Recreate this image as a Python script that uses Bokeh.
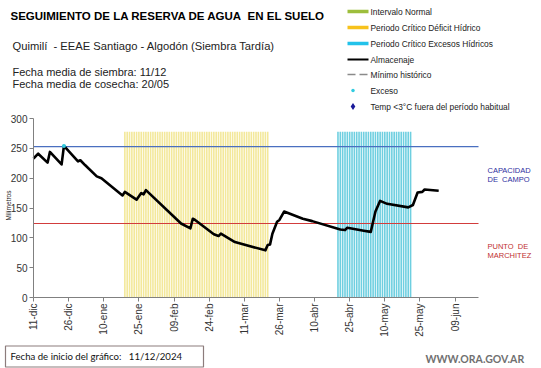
import numpy as np
from bokeh.plotting import figure
from bokeh.models import FixedTicker
from bokeh.core.properties import value
from bokeh.embed import file_html
from bokeh.resources import INLINE

# ---------------- data ----------------
# days since 11/12/2024
tick_days = [0, 15, 30, 45, 60, 75, 90, 105, 120, 135, 150, 165, 180]
tick_labels = ["11-dic", "26-dic", "10-ene", "25-ene", "09-feb", "24-feb", "11-mar",
               "26-mar", "10-abr", "25-abr", "10-may", "25-may", "09-jun"]
y_ticks = [0, 50, 100, 150, 200, 250, 300]

alm_days = [0, 2, 6, 7, 12, 13, 19, 20, 22, 27, 29, 38, 39, 44, 46, 47, 48, 63, 67, 68,
            69, 77, 79, 80, 86, 99, 100, 101, 102, 104, 105, 107, 115, 119, 131, 133, 134,
            141, 144, 146, 148, 151, 160, 162, 164, 166, 167, 173]
alm_vals = [233, 241, 226, 244, 223, 254, 228, 230, 222, 203, 200, 171, 177, 164, 175, 173, 180, 124, 116, 132,
            130, 106, 103, 107, 93, 79, 88, 89, 107, 127, 130, 144, 132, 128, 114, 113, 117,
            112, 110, 144, 162, 157, 151, 155, 176, 177, 181, 179]

exceso_days = [13]
exceso_vals = [254]

capacidad_campo = 253
punto_marchitez = 124

deficit_period = (39, 100)    # Periodo Crítico Déficit Hídrico
exceso_period = (130, 161)    # Periodo Crítico Excesos Hídricos
band_top = 278

X_END = 190
Y_END = 300

FONT = "Liberation Sans"
NB = "\u00a0"

# ---------------- geometry (page pixels) ----------------
W, H = 541, 368
FL, FR, FT, FB = 33, 478, 118, 297          # chart area edges, page pixels
PXD = (FR - FL) / X_END                      # pixels per day
PXV = (FB - FT) / Y_END                      # pixels per mm

def dx(px):
    return (px - FL) / PXD

def dy(py):
    return (FB - py) / PXV

p = figure(width=W, height=H, output_backend="svg", toolbar_location=None,
           x_range=(dx(0), dx(W)), y_range=(dy(H), dy(0)), min_border=0)
p.outline_line_color = None
p.grid.visible = False
p.background_fill_color = "white"
p.border_fill_color = "white"

for ax in (p.xaxis[0], p.yaxis[0]):
    ax.fixed_location = 0
    ax.axis_line_color = "#808080"
    ax.major_tick_line_color = "#808080"
    ax.minor_tick_line_color = None
    ax.major_tick_in = 0
    ax.major_tick_out = 4
    ax.major_label_text_font = FONT
    ax.major_label_text_font_size = "10px"
    ax.major_label_text_color = "#333333"
    ax.major_label_standoff = 2

p.xaxis.ticker = FixedTicker(ticks=tick_days)
p.xaxis.major_label_overrides = {d: l for d, l in zip(tick_days, tick_labels)}
p.xaxis.major_label_orientation = np.pi / 2
p.xaxis.bounds = (0, X_END)
p.yaxis.ticker = FixedTicker(ticks=y_ticks)
p.yaxis.bounds = (0, Y_END)

def txt(x, y, t, size, color="#222222", font=FONT, style="normal", align="left", angle=0):
    p.text(x=[x], y=[y], text=[t], text_font=value(font), text_font_size=value(size),
           text_color=color, text_font_style=style, text_align=align,
           text_baseline="middle", angle=angle)

# critical period bands (striped, one stripe per day)
yd = np.arange(deficit_period[0], deficit_period[1] + 1)
p.vbar(x=yd, width=0.68, bottom=0, top=band_top, fill_color="#F3E89A", line_color=None)
cd = np.arange(exceso_period[0], exceso_period[1] + 1)
p.vbar(x=cd, width=0.68, bottom=0, top=band_top, fill_color="#6ECFE0", line_color=None)

# reference lines
p.line([0, X_END], [capacidad_campo] * 2, line_color="#4A6FC0", line_width=1.2)
p.line([0, X_END], [punto_marchitez] * 2, line_color="#D23C3C", line_width=1.2)

# storage line
p.line(alm_days, alm_vals, line_color="black", line_width=2.6, line_join="round")
p.scatter(exceso_days, exceso_vals, size=4, marker="circle", fill_color="#33CCE0", line_color=None)

# right-side labels
txt(dx(487), dy(170), "CAPACIDAD", "7.5px", "#2E2EA0")
txt(dx(487), dy(179), "DE" + NB + NB + "CAMPO", "7.5px", "#2E2EA0")
txt(dx(487), dy(246), "PUNTO" + NB + NB + "DE", "7.5px", "#C03030")
txt(dx(487), dy(255), "MARCHITEZ", "7.5px", "#C03030")
txt(dx(8), dy(205), "Milímetros", "6.5px", "#222222", align="center", angle=np.pi / 2)

# ---------------- header ----------------
txt(dx(10), dy(15), "SEGUIMIENTO DE LA RESERVA DE AGUA" + NB + NB + "EN EL SUELO", "11.5px", "black", style="bold")
txt(dx(12), dy(45), "Quimilí" + NB + NB + "- EEAE Santiago - Algodón (Siembra Tardía)", "11.2px")
txt(dx(12), dy(71), "Fecha media de siembra: 11/12", "11px")
txt(dx(12), dy(83), "Fecha media de cosecha: 20/05", "11px")

leg_items = ["Intervalo Normal", "Periodo Crítico Déficit Hídrico",
             "Periodo Crítico Excesos Hídricos", "Almacenaje",
             "Mínimo histórico", "Exceso",
             "Temp <3°C fuera del período habitual"]
leg_y = [11, 27, 43, 59, 74, 90, 106]
for t, yy in zip(leg_items, leg_y):
    txt(dx(370), dy(yy), t, "8.4px")

p.quad(left=[dx(347)] * 3, right=[dx(368)] * 3, top=[dy(y - 1.8) for y in leg_y[:3]],
       bottom=[dy(y + 1.8) for y in leg_y[:3]],
       fill_color=["#9DBE3C", "#F7C21C", "#22C2EA"], line_color=None)
p.line([dx(347), dx(368)], [dy(leg_y[3])] * 2, line_color="black", line_width=2.2)
p.line([dx(347), dx(355)], [dy(leg_y[4])] * 2, line_color="#8A8A8A", line_width=1.5)
p.line([dx(359), dx(367)], [dy(leg_y[4])] * 2, line_color="#8A8A8A", line_width=1.5)
p.scatter([dx(352.5)], [dy(leg_y[5])], marker="circle", size=3.5, fill_color="#33CCE0", line_color=None)
p.scatter([dx(352.5)], [dy(leg_y[6])], marker="diamond", size=7, fill_color="#1A1A9A", line_color=None)

# ---------------- footer ----------------
p.quad(left=[dx(5)], right=[dx(203)], top=[dy(345.5)], bottom=[dy(366.5)], fill_color=None,
       line_color="#8C7C7C", line_width=1.2)
txt(dx(10), dy(356), "Fecha de inicio del gráfico:" + NB * 3 + "11/12/2024", "9.6px", "#111111", font="Lato")
txt(dx(425), dy(358), "WWW.ORA.GOV.AR", "10.5px", "#707070", font="Lato", style="bold")

open("out.html", "w").write(file_html(p, INLINE))
